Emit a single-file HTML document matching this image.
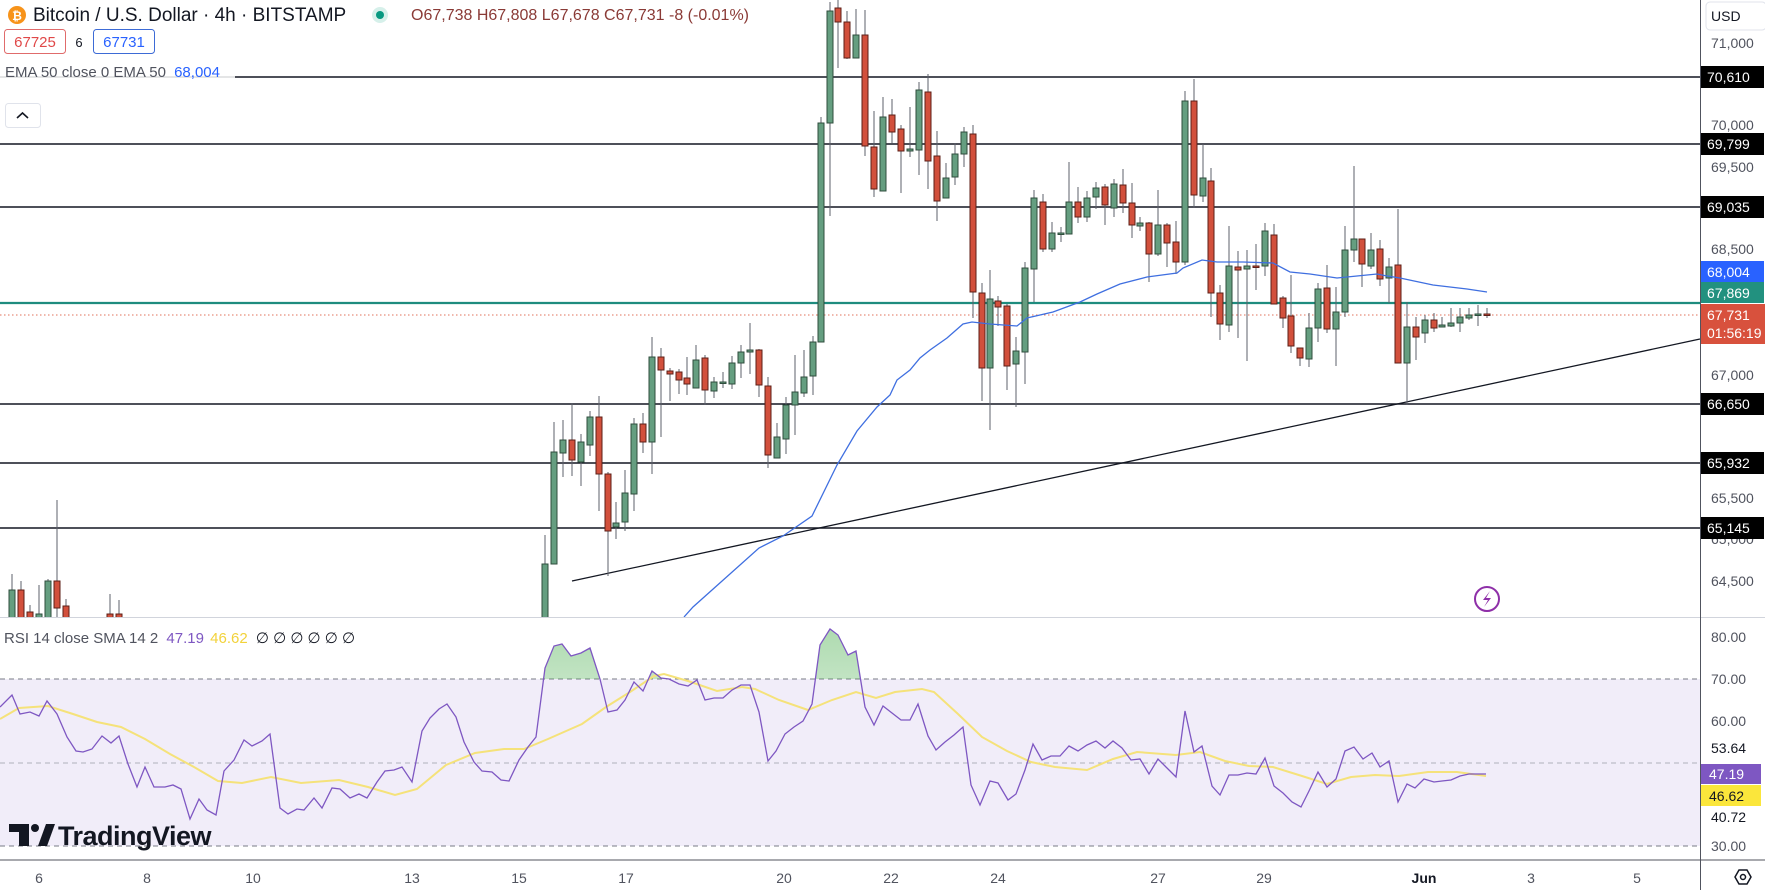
<!DOCTYPE html>
<html><head><meta charset="utf-8"><style>
html,body{margin:0;padding:0;background:#fff;}
body{width:1765px;height:890px;overflow:hidden;position:relative;font-family:"Liberation Sans",sans-serif;}
svg{position:absolute;left:0;top:0;}
.t{font-family:"Liberation Sans",sans-serif;}
</style></head><body>
<svg id="s" width="1765" height="890" viewBox="0 0 1765 890" xmlns="http://www.w3.org/2000/svg">
<defs>
<clipPath id="mainclip"><rect x="0" y="0" width="1700" height="617"/></clipPath>
<clipPath id="obclip"><rect x="0" y="617" width="1700" height="62"/></clipPath>
<linearGradient id="gg" x1="0" y1="0" x2="0" y2="1"><stop offset="0" stop-color="#4caf50" stop-opacity="0.45"/><stop offset="1" stop-color="#4caf50" stop-opacity="0.05"/></linearGradient>
</defs>
<rect x="0" y="679" width="1700" height="167" fill="#f1edf9"/>
<line x1="0" y1="679" x2="1700" y2="679" stroke="#787b86" stroke-dasharray="5,4" stroke-width="1"/>
<line x1="0" y1="763" x2="1700" y2="763" stroke="#9598a1" stroke-dasharray="5,4" stroke-width="1" opacity="0.7"/>
<line x1="0" y1="846" x2="1700" y2="846" stroke="#787b86" stroke-dasharray="5,4" stroke-width="1"/>
<g id="rsi"></g>
<g stroke="#131722" stroke-width="1.4">
<line x1="0" y1="77" x2="1700" y2="77"/>
<line x1="0" y1="144" x2="1700" y2="144"/>
<line x1="0" y1="207" x2="1700" y2="207"/>
<line x1="0" y1="404" x2="1700" y2="404"/>
<line x1="0" y1="463" x2="1700" y2="463"/>
<line x1="0" y1="528" x2="1700" y2="528"/>
</g>
<line x1="0" y1="303" x2="1700" y2="303" stroke="#1e8c7e" stroke-width="2.2"/>
<line x1="0" y1="315" x2="1700" y2="315" stroke="#e0705a" stroke-width="1" stroke-dasharray="1.5,2.5"/>
<line x1="572" y1="581" x2="1700" y2="339" stroke="#131722" stroke-width="1.3"/>
<g id="candles" clip-path="url(#mainclip)"></g>
<polyline id="ema" fill="none" stroke="#3f6fe0" stroke-width="1.3" clip-path="url(#mainclip)" points="684,617 693,607 759,548 783,536 812,516 837,465 857,431 877,407 890,395 897,380 910,370 920,358 930,350 947,338 963,324 972,322 990,324 1017,326 1027,318 1053,312 1080,302 1097,294 1120,284 1147,277 1177,273 1183,268 1202,260 1217,262 1243,262 1273,263 1290,272 1310,274 1337,278 1357,276 1377,274 1387,276 1400,278 1433,285 1467,289 1487,292"/>
<line x1="0" y1="617.5" x2="1765" y2="617.5" stroke="#d1d4dc" stroke-width="1"/>
<line x1="1700.5" y1="0" x2="1700.5" y2="860" stroke="#50535e" stroke-width="1"/>
<line x1="0" y1="860" x2="1765" y2="860" stroke="#50535e" stroke-width="1"/>
<line x1="1700.5" y1="860" x2="1700.5" y2="890" stroke="#50535e" stroke-width="1"/>
<circle cx="1487" cy="599" r="12" fill="none" stroke="#8e2fa8" stroke-width="2"/>
<path d="M1490 591 L1483 600 L1488 600 L1484 607 L1491 598 L1486 598 Z" fill="#8e2fa8"/>
<rect x="1706" y="2" width="60" height="28" rx="4" fill="#fff" stroke="#e0e3eb"/>
<g class="t" font-size="14" fill="#50535e">
<text x="1711" y="21" fill="#131722">USD</text>
<text x="1711" y="48">71,000</text>
<text x="1711" y="130">70,000</text>
<text x="1711" y="172">69,500</text>
<text x="1711" y="254">68,500</text>
<text x="1711" y="380">67,000</text>
<text x="1711" y="462">66,000</text>
<text x="1711" y="503">65,500</text>
<text x="1711" y="544">65,000</text>
<text x="1711" y="586">64,500</text>
<text x="1711" y="642">80.00</text>
<text x="1711" y="684">70.00</text>
<text x="1711" y="726">60.00</text>
<text x="1711" y="851">30.00</text>
</g>
<g class="t" font-size="14" fill="#fff">
<rect x="1701" y="66" width="63" height="22" fill="#000"/><text x="1707" y="82">70,610</text>
<rect x="1701" y="133" width="63" height="22" fill="#000"/><text x="1707" y="149">69,799</text>
<rect x="1701" y="196" width="63" height="22" fill="#000"/><text x="1707" y="212">69,035</text>
<rect x="1701" y="393" width="63" height="22" fill="#000"/><text x="1707" y="409">66,650</text>
<rect x="1701" y="452" width="63" height="22" fill="#000"/><text x="1707" y="468">65,932</text>
<rect x="1701" y="517" width="63" height="22" fill="#000"/><text x="1707" y="533">65,145</text>
<rect x="1701" y="261" width="63" height="21" fill="#2962ff"/><text x="1707" y="277">68,004</text>
<rect x="1701" y="282" width="63" height="21" fill="#22917f"/><text x="1707" y="298">67,869</text>
<rect x="1701" y="304" width="64" height="40" fill="#d8513d"/><text x="1707" y="320">67,731</text><text x="1707" y="338">01:56:19</text>
<rect x="1701" y="764" width="60" height="20" fill="#7e57c2"/><text x="1709" y="779">47.19</text>
<rect x="1701" y="785" width="60" height="21" fill="#fbe63b"/><text x="1709" y="801" fill="#131722">46.62</text>
</g>
<g class="t" font-size="14" fill="#131722">
<text x="1711" y="753">53.64</text>
<text x="1711" y="822">40.72</text>
</g>
<g class="t" font-size="14" fill="#50535e" text-anchor="middle">
<text x="39" y="883">6</text><text x="147" y="883">8</text><text x="253" y="883">10</text>
<text x="412" y="883">13</text><text x="519" y="883">15</text><text x="626" y="883">17</text>
<text x="784" y="883">20</text><text x="891" y="883">22</text><text x="998" y="883">24</text>
<text x="1158" y="883">27</text><text x="1264" y="883">29</text>
<text x="1424" y="883" fill="#131722" font-weight="bold">Jun</text>
<text x="1531" y="883">3</text><text x="1637" y="883">5</text>
</g>
<polygon points="1735,877 1739,870 1747,870 1751,877 1747,884 1739,884" fill="none" stroke="#131722" stroke-width="1.5"/>
<circle cx="1743" cy="877" r="2.5" fill="none" stroke="#131722" stroke-width="1.5"/>
<circle cx="17" cy="15" r="9" fill="#f7931a"/>
<text x="17" y="20" class="t" font-size="12" font-weight="bold" fill="#fff" text-anchor="middle">₿</text>
<text x="33" y="21" class="t" font-size="19" fill="#131722">Bitcoin / U.S. Dollar · 4h · BITSTAMP</text>
<circle cx="380" cy="15" r="8" fill="#d6f0ea"/><circle cx="380" cy="15" r="4" fill="#089981"/>
<text x="411" y="20" class="t" font-size="16" fill="#8a3a36">O67,738 H67,808 L67,678 C67,731 -8 (-0.01%)</text>
<rect x="4.5" y="29.5" width="61" height="24" rx="3" fill="#fff" stroke="#e06b6b"/>
<text x="35" y="47" class="t" font-size="15" fill="#e04848" text-anchor="middle">67725</text>
<text x="79" y="47" class="t" font-size="13" fill="#131722" text-anchor="middle">6</text>
<rect x="93.5" y="29.5" width="61" height="24" rx="3" fill="#fff" stroke="#3d6bd6"/>
<text x="124" y="47" class="t" font-size="15" fill="#2962ff" text-anchor="middle">67731</text>
<rect x="0" y="62" width="235" height="19" fill="#fff" opacity="0.85"/>
<text x="5" y="77" class="t" font-size="15" fill="#50535e">EMA 50 close 0 EMA 50 <tspan fill="#2962ff" dx="4">68,004</tspan></text>
<rect x="5.5" y="103.5" width="35" height="24" rx="3" fill="#fff" stroke="#e0e3eb"/>
<path d="M17 118 L22.5 113 L28 118" fill="none" stroke="#131722" stroke-width="1.6"/>
<text x="4" y="643" class="t" font-size="15" fill="#50535e">RSI 14 close SMA 14 2 <tspan fill="#7e57c2" dx="4">47.19</tspan> <tspan fill="#f2d23a" dx="2">46.62</tspan> <tspan fill="#131722" dx="4">∅ ∅ ∅ ∅ ∅ ∅</tspan></text>
<g fill="#131722">
<path d="M9 824 H29 V846 H19 V832 H9 Z"/>
<circle cx="35" cy="828" r="4"/>
<path d="M38 846 L46 824 H55 L47 846 Z"/>
</g>
<text x="58" y="845" class="t" font-size="27" font-weight="bold" fill="#131722" letter-spacing="-0.5">TradingView</text>
</svg>
<script>
var C=[
[12,0,590,620,574,620],[21,1,590,620,581,620],[30,1,612,620,605,620],[39,0,614,620,585,620],[48,0,581,620,579,620],[57,1,581,608,500,620],[66,1,606,620,599,620],[110,1,614,620,594,620],[119,1,614,620,600,620],
[545,0,564,620,535,620],[554,0,452,564,422,564],[563,0,440,453,420,477],[572,1,440,460,403,476],[581,0,442,462,434,486],[590,0,417,445,411,456],[599,1,417,474,396,511],[608,1,474,531,472,576],[616,0,523,527,502,539],[625,0,493,522,470,531],[634,0,424,494,418,511],[643,1,424,442,413,453],[652,0,357,442,337,474],[661,1,357,370,348,437],[670,1,371,374,368,401],[679,1,372,380,369,394],[687,1,378,384,357,395],[696,0,360,388,345,388],[705,1,358,390,355,405],[714,0,382,391,377,398],[723,0,382,383,372,388],[732,0,363,384,356,389],[741,0,352,363,345,378],[750,0,350,352,323,374],[759,1,350,385,349,397],[768,1,386,455,377,468],[777,0,437,458,423,458],[786,0,405,439,397,454],[795,0,392,405,355,435],[804,0,377,393,350,397],[813,0,342,376,336,395],[821,0,123,342,117,342],[830,0,11,123,2,216],[838,1,8,22,0,68],[847,1,22,58,11,59],[856,0,35,58,9,58],[865,1,35,146,10,156],[874,1,147,189,111,197],[883,0,117,191,97,191],
[892,1,115,132,99,143],[901,1,129,151,125,193],[910,0,149,151,107,157],[919,0,90,150,82,175],[928,1,92,161,74,189],[937,1,156,201,131,221],[946,0,178,198,163,198],[955,0,154,177,143,185],[964,0,132,154,127,167],[973,1,134,292,125,318],[982,1,293,368,283,401],[990,0,299,368,270,430],[998,1,301,307,296,326],[1007,1,306,366,304,390],[1016,0,351,364,337,407],[1025,0,268,352,262,384],[1034,0,198,269,190,302],[1043,1,202,249,194,252],[1052,0,233,249,222,252],[1061,0,233,234,227,242],[1069,0,202,234,162,234],[1078,1,202,217,187,223],[1087,0,198,217,191,222],[1096,0,188,197,182,209],[1105,1,187,205,184,225],[1114,0,184,208,179,217],[1123,1,185,203,169,213],[1132,1,203,225,183,238],[1140,0,223,226,217,231],[1149,1,223,254,222,282],[1158,0,225,254,190,256],[1167,1,225,243,223,267],[1176,1,242,262,221,274],[1185,0,101,262,91,265],[1194,1,101,195,79,208],[1203,0,178,196,144,202],[1211,1,181,293,168,317],[1220,1,293,324,285,340],[1229,0,266,325,226,332],[1238,1,267,270,251,338],[1247,0,266,269,250,361],[1256,1,266,267,244,290],[1265,0,231,266,223,276],[1274,1,235,304,224,304],
[1283,1,298,318,296,328],[1291,1,316,346,275,353],[1300,1,348,358,348,366],[1309,0,328,359,313,367],[1318,0,289,328,283,342],[1327,1,288,329,265,333],[1336,0,312,329,287,366],[1345,0,250,312,226,317],[1354,0,239,250,166,262],[1362,1,239,264,239,287],[1371,0,250,266,233,269],[1380,1,249,279,240,286],[1389,0,267,278,258,303],[1398,1,265,363,209,363],[1407,0,327,363,302,405],[1416,1,327,337,317,360],[1425,0,320,333,315,343],[1434,1,320,328,313,332],[1442,0,325,327,317,327],[1451,0,323,326,308,327],[1460,0,317,323,308,332],[1469,0,315,318,308,320],[1478,0,314,315,305,326],[1487,1,314,315,308,318]
];
var g=document.getElementById("candles"),h="";
C.forEach(function(c){var x=c[0],r=c[1];var bt=c[2],bb=Math.max(c[3],c[2]+1.5);
h+='<line x1="'+x+'" y1="'+c[4]+'" x2="'+x+'" y2="'+c[5]+'" stroke="#5d606b" stroke-width="1"/>';
h+='<rect x="'+(x-3)+'" y="'+bt+'" width="6" height="'+(bb-bt)+'" fill="'+(r?'#d2503c':'#659e80')+'" stroke="'+(r?'#5c1f17':'#2f4d3d')+'" stroke-width="1"/>';});
g.innerHTML=h;
var R="0,707 12,695 20,714 30,712 39,716 47,701 57,714 67,737 76,751 83,752 92,749 102,736 111,743 119,736 128,764 137,787 145,767 154,787 165,787 173,785 181,789 190,819 199,799 207,810 216,815 224,771 234,760 244,740 252,746 262,741 270,734 280,808 288,814 297,809 304,810 314,798 322,808 332,788 340,789 350,798 359,794 367,798 377,782 385,771 394,770 402,767 412,782 422,731 430,718 439,709 447,704 456,717 464,742 474,762 482,771 492,772 501,780 509,781 519,760 528,747 536,737 545,668 554,646 562,644 571,656 581,653 590,648 600,679 608,712 617,710 625,700 634,682 643,691 652,671 661,678 669,679 679,684 688,686 697,680 705,700 714,698 723,698 732,690 741,685 750,685 759,712 768,761 776,751 785,734 794,727 803,721 812,704 820,645 830,629 838,635 848,655 856,651 865,707 874,725 883,706 892,713 901,720 910,720 918,704 928,736 936,750 945,742 954,735 963,727 971,785 980,805 990,781 998,783 1008,800 1016,794 1025,770 1033,744 1042,760 1051,756 1060,756 1069,746 1078,751 1087,745 1096,741 1105,748 1113,741 1122,748 1131,760 1140,759 1149,774 1158,759 1167,768 1176,777 1185,711 1194,752 1202,746 1212,786 1220,795 1229,775 1238,775 1247,773 1256,774 1265,758 1274,786 1283,793 1292,802 1301,807 1309,791 1318,772 1327,787 1336,779 1345,751 1354,747 1363,759 1372,753 1380,767 1389,761 1398,802 1407,784 1415,788 1424,779 1434,782 1442,781 1451,780 1460,776 1469,774 1477,774 1486,774";
var Y="0,719 19,708 48,706 73,714 97,722 121,727 145,739 170,754 194,767 218,781 242,783 271,777 301,783 339,780 368,787 395,795 417,789 446,765 475,753 504,749 524,749 548,739 582,724 606,707 630,692 654,676 664,674 688,681 717,691 742,687 755,689 779,700 808,710 832,700 856,692 876,698 895,692 922,689 934,692 958,714 982,737 1007,751 1031,762 1055,767 1087,770 1113,759 1137,752 1176,755 1200,752 1225,761 1249,766 1273,767 1302,776 1327,784 1351,777 1375,775 1399,776 1428,772 1457,772 1486,776";
document.getElementById("rsi").innerHTML='<polygon clip-path="url(#obclip)" points="0,679 '+R+' 1486,679" fill="url(#gg)"/>'+
'<polyline points="'+Y+'" fill="none" stroke="#f5e27a" stroke-width="2"/>'+
'<polyline points="'+R+'" fill="none" stroke="#7e57c2" stroke-width="1.3"/>';
</script>
</body></html>
